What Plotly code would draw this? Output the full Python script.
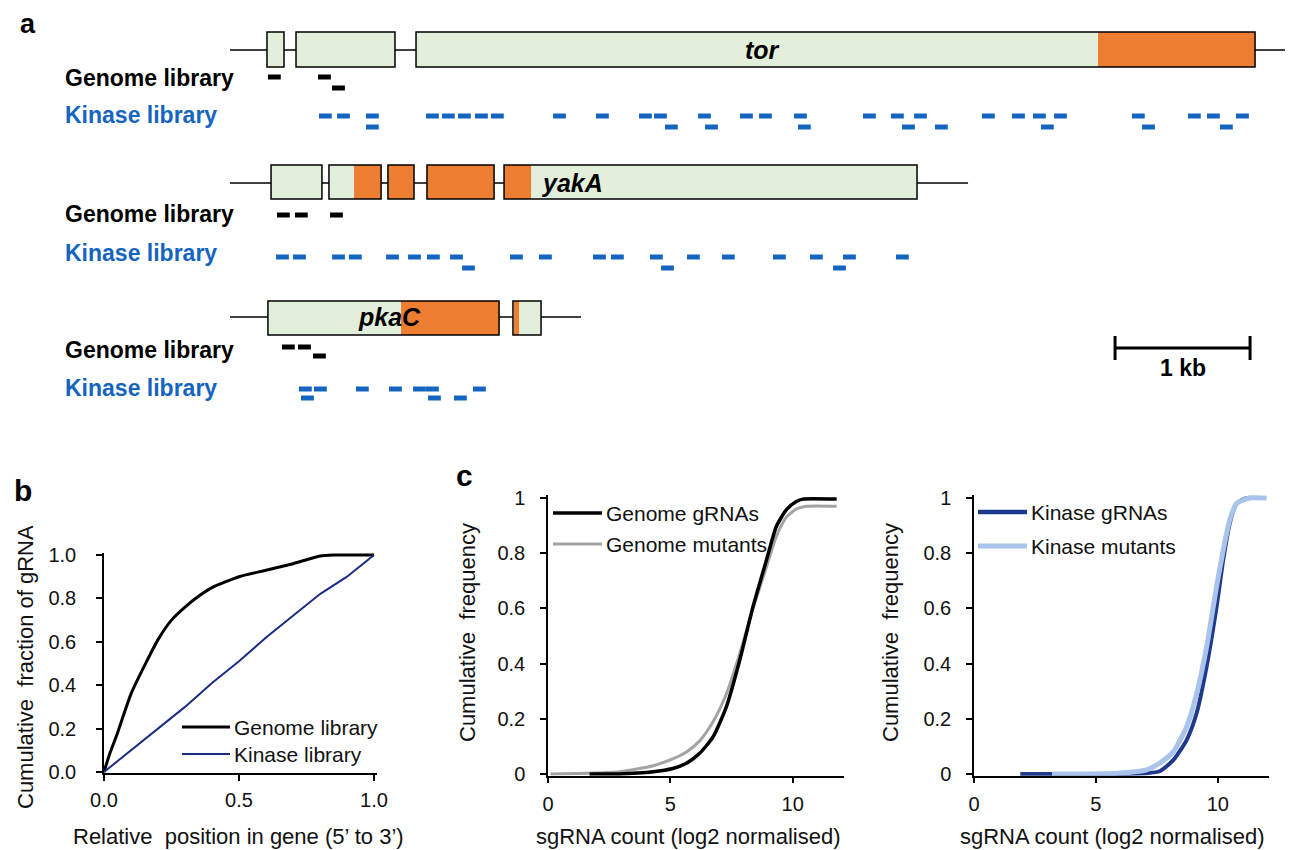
import plotly.graph_objects as go

OFF = 8                      # page body margin of the viewer
W_REF, H_REF = 1293, 850     # reference picture size
W, H = W_REF - OFF, H_REF - OFF
FONT = "Liberation Sans, Arial, sans-serif"

# ---------------- Panel a data (bp from start of drawn locus) ----------------
tor_locus = [0, 7815]
tor_exon_start = [274, 489, 1378]
tor_exon_end = [400, 1222, 7593]
tor_domain_start = [6430]
tor_domain_end = [7593]
tor_genome_upper = [281, 652]
tor_genome_lower = [756]
tor_kinase_upper = [659, 793, 1007, 1452, 1570, 1689, 1815, 1933, 2393, 2711, 3030, 3141,
                    3467, 3778, 3919, 4178, 4689, 4896, 5067, 5570, 5793, 5948, 6104, 6681,
                    7096, 7237, 7452]
tor_kinase_lower = [1007, 3222, 3519, 4207, 4978, 5222, 6007, 6756, 7333]

yakA_locus = [0, 5467]
yakA_exon_start = [304, 733, 1170, 1459, 2030]
yakA_exon_end = [681, 1119, 1363, 1956, 5089]
yakA_domain_start = [919, 1170, 1459, 2030]
yakA_domain_end = [1119, 1363, 1956, 2230]
yakA_genome_upper = [348, 481, 741]
yakA_genome_lower = []
yakA_kinase_upper = [341, 467, 756, 881, 1156, 1319, 1459, 1630, 2074, 2289, 2689, 2822,
                     3111, 3385, 3644, 4022, 4296, 4541, 4933]
yakA_kinase_lower = [1719, 3193, 4467]

pkaC_locus = [0, 2600]
pkaC_exon_start = [281, 2096]
pkaC_exon_end = [1993, 2304]
pkaC_domain_start = [1267, 2104]
pkaC_domain_end = [1993, 2141]
pkaC_genome_upper = [385, 504]
pkaC_genome_lower = [615]
pkaC_kinase_upper = [511, 622, 933, 1178, 1356, 1452, 1800]
pkaC_kinase_lower = [526, 1467, 1659]

gene_names = ["tor", "yakA", "pkaC"]
gene_label_bp = [3941, 2533, 1181]
guide_len_bp = 95
scale_bar_start_bp = 6556
scale_bar_kb = 1

# ---------------- Panel b data ----------------
b_genome_pos = [0, 0.02, 0.05, 0.08, 0.1, 0.15, 0.2, 0.25, 0.3, 0.35, 0.4, 0.5, 0.6, 0.7, 0.8, 0.85, 0.9, 1.0]
b_genome_frac = [0, 0.08, 0.18, 0.29, 0.36, 0.49, 0.61, 0.70, 0.76, 0.81, 0.85, 0.90, 0.93, 0.96, 0.995, 1.0, 1.0, 1.0]
b_kinase_pos = [0, 0.1, 0.2, 0.3, 0.4, 0.5, 0.6, 0.7, 0.8, 0.9, 1.0]
b_kinase_frac = [0, 0.10, 0.20, 0.30, 0.41, 0.51, 0.62, 0.72, 0.82, 0.90, 1.0]

# ---------------- Panel c data ----------------
c_genome_grna_x = [1.7, 2.9, 4.3, 5.1, 5.66, 6.2, 6.75, 7.29, 7.84, 8.38, 8.93, 9.33, 9.74, 10.15, 10.42, 11.8]
c_genome_grna_y = [0, 0, 0.008, 0.02, 0.039, 0.075, 0.135, 0.243, 0.413, 0.606, 0.775, 0.896, 0.957, 0.987, 0.996, 0.996]
c_genome_mut_x = [0.1, 1.7, 2.94, 4.3, 5.1, 5.66, 6.2, 6.75, 7.29, 7.84, 8.38, 8.93, 9.33, 9.74, 10.15, 10.56, 11.8]
c_genome_mut_y = [0, 0.003, 0.008, 0.03, 0.055, 0.08, 0.12, 0.19, 0.29, 0.437, 0.60, 0.75, 0.86, 0.93, 0.96, 0.97, 0.97]
c_kinase_grna_x = [1.9, 5.0, 7.08, 7.62, 8.17, 8.72, 9.13, 9.54, 9.95, 10.22, 10.49, 10.77, 11.18, 11.8]
c_kinase_grna_y = [0, 0, 0.003, 0.01, 0.05, 0.123, 0.22, 0.389, 0.606, 0.775, 0.908, 0.98, 1.0, 1.0]
c_kinase_mut_x = [3.2, 5.9, 7.08, 7.62, 8.17, 8.72, 9.13, 9.54, 9.95, 10.22, 10.49, 10.77, 11.3, 12.0]
c_kinase_mut_y = [0, 0.003, 0.015, 0.04, 0.08, 0.17, 0.29, 0.46, 0.68, 0.81, 0.92, 0.98, 1.0, 1.0]

# ---------------- styling / layout constants ----------------
GREEN = "#E2EFDA"
ORANGE = "#ED7D31"
BLUE = "#1565C0"
PX_PER_BP = 0.135
X0_PX = 230

rows = [
    dict(line=50, top=32, bot=67, g_up=77, g_lo=88, k_up=116, k_lo=127, g_lab=78, k_lab=115),
    dict(line=183, top=165, bot=199, g_up=215, g_lo=225, k_up=257, k_lo=268, g_lab=214, k_lab=253),
    dict(line=317, top=301, bot=335, g_up=347, g_lo=356, k_up=389, k_lo=398, g_lab=350, k_lab=388),
]

genes = [
    (tor_locus, tor_exon_start, tor_exon_end, tor_domain_start, tor_domain_end,
     tor_genome_upper, tor_genome_lower, tor_kinase_upper, tor_kinase_lower),
    (yakA_locus, yakA_exon_start, yakA_exon_end, yakA_domain_start, yakA_domain_end,
     yakA_genome_upper, yakA_genome_lower, yakA_kinase_upper, yakA_kinase_lower),
    (pkaC_locus, pkaC_exon_start, pkaC_exon_end, pkaC_domain_start, pkaC_domain_end,
     pkaC_genome_upper, pkaC_genome_lower, pkaC_kinase_upper, pkaC_kinase_lower),
]


def px(x):
    return (x - OFF) / W


def py(y):
    return 1 - (y - OFF) / H


fig = go.Figure()
shapes = []
annotations = []


def dash_trace(starts, y, color):
    xs, ys = [], []
    for s in starts:
        xs += [s, s + guide_len_bp, None]
        ys += [y, y, None]
    return go.Scatter(x=xs, y=ys, mode="lines", line=dict(color=color, width=5),
                      xaxis="x", yaxis="y", showlegend=False, hoverinfo="skip")


for i, (locus, es, ee, ds, de, gu, gl, ku, kl) in enumerate(genes):
    r = rows[i]
    shapes.append(dict(type="line", xref="x", yref="y", x0=locus[0], x1=locus[1],
                       y0=r["line"], y1=r["line"], line=dict(color="black", width=1.5), layer="below"))
    for a, b in zip(es, ee):
        shapes.append(dict(type="rect", xref="x", yref="y", x0=a, x1=b, y0=r["top"], y1=r["bot"],
                           fillcolor=GREEN, line=dict(width=0), layer="below"))
    for a, b in zip(ds, de):
        shapes.append(dict(type="rect", xref="x", yref="y", x0=a, x1=b, y0=r["top"], y1=r["bot"],
                           fillcolor=ORANGE, line=dict(width=0), layer="below"))
    for a, b in zip(es, ee):
        shapes.append(dict(type="rect", xref="x", yref="y", x0=a, x1=b, y0=r["top"], y1=r["bot"],
                           fillcolor="rgba(0,0,0,0)", line=dict(color="black", width=1.5), layer="below"))
    fig.add_trace(dash_trace(gu, r["g_up"], "black"))
    fig.add_trace(dash_trace(gl, r["g_lo"], "black"))
    fig.add_trace(dash_trace(ku, r["k_up"], BLUE))
    fig.add_trace(dash_trace(kl, r["k_lo"], BLUE))
    annotations.append(dict(x=gene_label_bp[i], y=r["line"], xref="x", yref="y",
                            text="<b><i>%s</i></b>" % gene_names[i], showarrow=False,
                            font=dict(family=FONT, size=25, color="black"),
                            xanchor="center", yanchor="middle"))
    annotations.append(dict(x=px(63), y=py(r["g_lab"]), xref="paper", yref="paper",
                            text="<b>Genome library</b>", showarrow=False,
                            font=dict(family=FONT, size=23, color="black"),
                            xanchor="left", yanchor="middle"))
    annotations.append(dict(x=px(63), y=py(r["k_lab"]), xref="paper", yref="paper",
                            text="<b>Kinase library</b>", showarrow=False,
                            font=dict(family=FONT, size=23, color=BLUE),
                            xanchor="left", yanchor="middle"))

# scale bar
sb0 = scale_bar_start_bp
sb1 = scale_bar_start_bp + scale_bar_kb * 1000
shapes.append(dict(type="line", xref="x", yref="y", x0=sb0, x1=sb1, y0=348, y1=348,
                   line=dict(color="black", width=3)))
for xx in (sb0, sb1):
    shapes.append(dict(type="line", xref="x", yref="y", x0=xx, x1=xx, y0=336, y1=360,
                       line=dict(color="black", width=3)))
annotations.append(dict(x=(sb0 + sb1) / 2, y=368, xref="x", yref="y", text="<b>1 kb</b>",
                        showarrow=False, font=dict(family=FONT, size=23, color="black"),
                        xanchor="center", yanchor="middle"))

# ---------------- panel b ----------------
fig.add_trace(go.Scatter(x=b_genome_pos, y=b_genome_frac, mode="lines", name="Genome library",
                         line=dict(color="black", width=3, shape="spline", smoothing=0.5),
                         xaxis="x2", yaxis="y2", showlegend=False))
fig.add_trace(go.Scatter(x=b_kinase_pos, y=b_kinase_frac, mode="lines", name="Kinase library",
                         line=dict(color="#1B2C86", width=2),
                         xaxis="x2", yaxis="y2", showlegend=False))

# ---------------- panel c ----------------
fig.add_trace(go.Scatter(x=c_genome_mut_x, y=c_genome_mut_y, mode="lines", name="Genome mutants",
                         line=dict(color="#A3A3A3", width=3, shape="spline", smoothing=0.6),
                         xaxis="x3", yaxis="y3", showlegend=False))
fig.add_trace(go.Scatter(x=c_genome_grna_x, y=c_genome_grna_y, mode="lines", name="Genome gRNAs",
                         line=dict(color="black", width=3.5, shape="spline", smoothing=0.6),
                         xaxis="x3", yaxis="y3", showlegend=False))
fig.add_trace(go.Scatter(x=c_kinase_grna_x, y=c_kinase_grna_y, mode="lines", name="Kinase gRNAs",
                         line=dict(color="#1F3A8A", width=4, shape="spline", smoothing=0.6),
                         xaxis="x4", yaxis="y4", showlegend=False))
fig.add_trace(go.Scatter(x=c_kinase_mut_x, y=c_kinase_mut_y, mode="lines", name="Kinase mutants",
                         line=dict(color="#A9C3EA", width=5, shape="spline", smoothing=0.6),
                         xaxis="x4", yaxis="y4", showlegend=False))

# manual legends (line sample + text)
legend_items = [
    (182, 230, 727, "black", 3, "Genome library"),
    (182, 230, 754, "#1B2C86", 2, "Kinase library"),
    (553, 602, 513, "black", 3.5, "Genome gRNAs"),
    (553, 602, 544, "#A3A3A3", 3, "Genome mutants"),
    (978, 1027, 512, "#1F3A8A", 4.5, "Kinase gRNAs"),
    (978, 1027, 546, "#A9C3EA", 5, "Kinase mutants"),
]
for x0, x1, yy, col, wd, label in legend_items:
    shapes.append(dict(type="line", xref="paper", yref="paper", x0=px(x0), x1=px(x1),
                       y0=py(yy), y1=py(yy), line=dict(color=col, width=wd)))
    annotations.append(dict(x=px(x1 + 2), y=py(yy), xref="paper", yref="paper", text=label,
                            showarrow=False, font=dict(family=FONT, size=21, color="#111"),
                            xanchor="left", yanchor="middle"))

# axis titles
titles = [
    (238, 836, 0, "Relative  position in gene (5’ to 3’)"),
    (25, 667, -90, "Cumulative  fraction of gRNA"),
    (688, 836, 0, "sgRNA count (log2 normalised)"),
    (467, 633, -90, "Cumulative  frequency"),
    (1112, 836, 0, "sgRNA count (log2 normalised)"),
    (890, 633, -90, "Cumulative  frequency"),
]
for xx, yy, ang, t in titles:
    annotations.append(dict(x=px(xx), y=py(yy), xref="paper", yref="paper", text=t, textangle=ang,
                            showarrow=False, font=dict(family=FONT, size=22, color="#111"),
                            xanchor="center", yanchor="middle"))

# panel letters
annotations.append(dict(x=px(28), y=1, xref="paper", yref="paper", text="<b>a</b>",
                        showarrow=False, font=dict(family=FONT, size=27, color="black"),
                        xanchor="center", yanchor="top", borderpad=0))
for xx, yy, t in [(23, 490, "b"), (464, 476, "c")]:
    annotations.append(dict(x=px(xx), y=py(yy), xref="paper", yref="paper", text="<b>%s</b>" % t,
                            showarrow=False, font=dict(family=FONT, size=30, color="black"),
                            xanchor="center", yanchor="middle"))

axis_common = dict(showline=True, linecolor="black", linewidth=1.5, ticks="outside", ticklen=6,
                   tickwidth=1.5, tickcolor="black", showgrid=False, zeroline=False,
                   tickfont=dict(family=FONT, size=20, color="#111"), layer="below traces",
                   automargin=False)


def ydom(y1px, y0px, lo, hi, vmin, vmax):
    ppu = (y0px - y1px) / (hi - lo)
    bottom = y0px + (lo - vmin) * ppu
    top = y1px - (vmax - hi) * ppu
    return [py(bottom), py(top)]


fig.update_layout(
    width=W, height=H, autosize=False,
    margin=dict(l=0, r=0, t=0, b=0, pad=0, autoexpand=False),
    paper_bgcolor="white", plot_bgcolor="rgba(0,0,0,0)",
    showlegend=False,
    xaxis=dict(domain=[0, 1], range=[(OFF - X0_PX) / PX_PER_BP, (W_REF - X0_PX) / PX_PER_BP],
               visible=False, automargin=False),
    yaxis=dict(domain=[0, 1], range=[H_REF, OFF], visible=False, automargin=False),
    xaxis2=dict(axis_common, domain=[px(104), px(374 + 2.7)], range=[0, 1.01], anchor="y2",
                tickvals=[0, 0.5, 1.0], tickformat=".1f", ticklabelstandoff=2),
    yaxis2=dict(axis_common, domain=ydom(555, 772, 0, 1, -0.005, 1.01), range=[-0.005, 1.01],
                anchor="x2", tickvals=[0, 0.2, 0.4, 0.6, 0.8, 1.0], tickformat=".1f",
                ticklabelstandoff=16),
    xaxis3=dict(axis_common, domain=[px(548), px(844)], range=[0, 12.1], anchor="y3",
                tickvals=[0, 5, 10], ticklabelstandoff=4),
    yaxis3=dict(axis_common, domain=ydom(498, 774, 0, 1, -0.006, 1.01), range=[-0.006, 1.01],
                anchor="x3", tickvals=[0, 0.2, 0.4, 0.6, 0.8, 1], ticklabelstandoff=11),
    xaxis4=dict(axis_common, domain=[px(974), px(1269)], range=[0, 12.1], anchor="y4",
                tickvals=[0, 5, 10], ticklabelstandoff=4),
    yaxis4=dict(axis_common, domain=ydom(498, 774, 0, 1, -0.006, 1.01), range=[-0.006, 1.01],
                anchor="x4", tickvals=[0, 0.2, 0.4, 0.6, 0.8, 1], ticklabelstandoff=11),
    shapes=shapes,
    annotations=annotations,
)

fig.write_html("out.html")
